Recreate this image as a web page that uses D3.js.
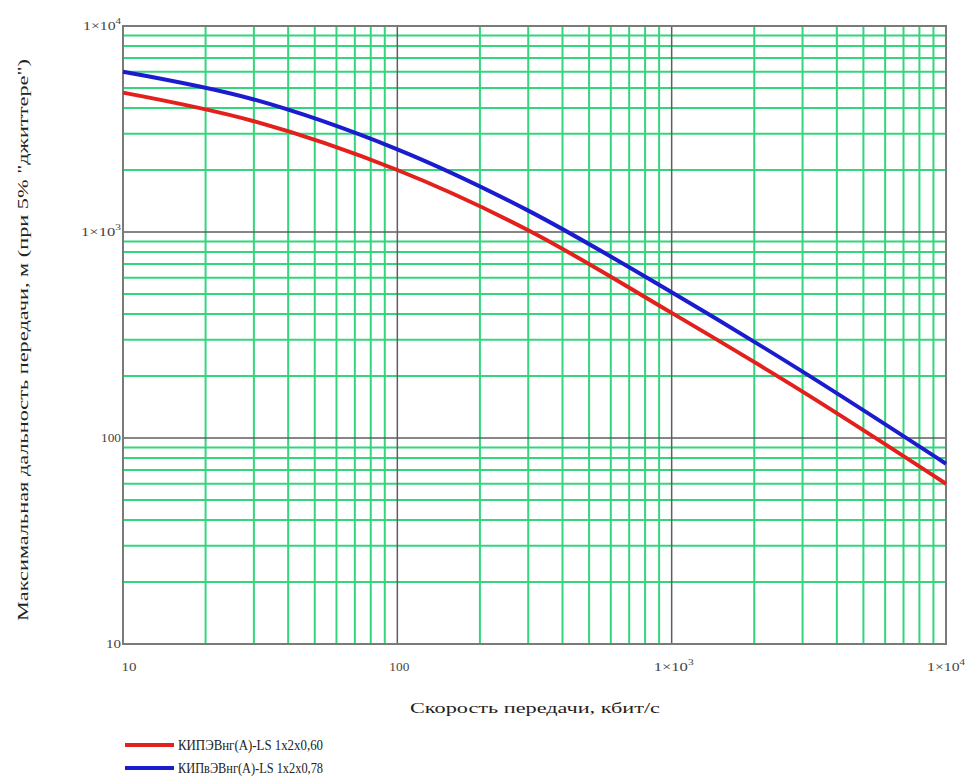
<!DOCTYPE html>
<html>
<head>
  <meta charset='utf-8'>
  <title>Дальность передачи</title>
  <style>
    body { margin: 0; background: #fff; }
  </style>
</head>
<body>
<div id="chart"></div>
<script src="https://cdnjs.cloudflare.com/ajax/libs/d3/7.8.5/d3.min.js"></script>
<script>

// values
var speeds = [10, 30, 100, 300, 1000, 3000, 10000];
var range060 = [4750, 3450, 2000, 1020, 405, 168, 60];
var range078 = [6000, 4400, 2520, 1270, 510, 210, 75];
var seriesNames = ['КИПЭВнг(А)-LS 1x2x0,60', 'КИПвЭВнг(А)-LS 1x2x0,78'];
var seriesColors = ['#e3201b', '#1c1ccf'];
var decades = [10, 100, 1000, 10000];
var decadeLabels = ['10', '100', '1\u00d710|3', '1\u00d710|4'];

var width = 968, height = 779;
// note: "top" is taken by window.top, so plot edges get their own names
var plotL = 123, plotR = 946, plotT = 26, plotB = 644;
var serif = "'Liberation Serif', 'Times New Roman', 'DejaVu Serif', serif";

var svg = d3.select('#chart').append('svg')
  .attr('width', width)
  .attr('height', height)
  .attr('font-family', serif);

var x = d3.scaleLog().domain([10, 10000]).range([plotL, plotR]);
var y = d3.scaleLog().domain([10, 10000]).range([plotB, plotT]);

// minor values 20..90, 200..900 etc
var minors = [];
decades.slice(0, 3).forEach(function(d) {
  for (var k = 2; k <= 9; k++) minors.push(d * k);
});

var grid = svg.append('g');
grid.selectAll('line.vmin').data(minors).enter().append('line')
  .attr('x1', function(d) { return x(d); })
  .attr('x2', function(d) { return x(d); })
  .attr('y1', plotT).attr('y2', plotB)
  .attr('stroke', '#33d67c').attr('stroke-width', 2);
grid.selectAll('line.hmin').data(minors).enter().append('line')
  .attr('y1', function(d) { return y(d); })
  .attr('y2', function(d) { return y(d); })
  .attr('x1', plotL).attr('x2', plotR)
  .attr('stroke', '#33d67c').attr('stroke-width', 2);
grid.selectAll('line.vmaj').data(decades.slice(1, 3)).enter().append('line')
  .attr('x1', function(d) { return x(d); })
  .attr('x2', function(d) { return x(d); })
  .attr('y1', plotT).attr('y2', plotB)
  .attr('stroke', '#5e5e5e').attr('stroke-width', 1.5);
grid.selectAll('line.hmaj').data(decades.slice(1, 3)).enter().append('line')
  .attr('y1', function(d) { return y(d); })
  .attr('y2', function(d) { return y(d); })
  .attr('x1', plotL).attr('x2', plotR)
  .attr('stroke', '#5e5e5e').attr('stroke-width', 1.5);

svg.append('rect')
  .attr('x', plotL).attr('y', plotT)
  .attr('width', plotR - plotL).attr('height', plotB - plotT)
  .attr('fill', 'none').attr('stroke', '#7a7a7a').attr('stroke-width', 2);

// tick labels, "a|b" means a with superscript b
function label(sel, s) {
  var parts = s.split('|');
  sel.text(parts[0]);
  if (parts[1]) {
    sel.append('tspan').attr('dy', -6).attr('font-size', 9).text(parts[1]);
  }
}

// the source picture is stretched sideways, so text is stretched to match
function stretch(sel, len) {
  sel.attr('textLength', len).attr('lengthAdjust', 'spacingAndGlyphs');
}
var tickLen = [15, 20, 40, 38];

decades.forEach(function(d, i) {
  var t = svg.append('text')
    .attr('x', plotL - 2).attr('y', y(d) + 4)
    .attr('text-anchor', 'end')
    .attr('font-size', 13).attr('fill', '#444');
  label(t, decadeLabels[i]);
  stretch(t, tickLen[i]);
  // last label is kept inside the page edge
  var tx = svg.append('text')
    .attr('x', i === 3 ? width - 3 : x(d) + (i === 0 ? 6 : 2))
    .attr('y', plotB + 27)
    .attr('text-anchor', i === 3 ? 'end' : 'middle')
    .attr('font-size', 13).attr('fill', '#444');
  label(tx, decadeLabels[i]);
  stretch(tx, tickLen[i]);
});

svg.append('text')
  .attr('x', 535).attr('y', 713)
  .attr('text-anchor', 'middle')
  .attr('font-size', 15).attr('fill', '#222')
  .text('Скорость передачи, кбит/с')
  .call(stretch, 250);

svg.append('text')
  .attr('transform', 'translate(28,' + 340 + ') rotate(-90)')
  .attr('text-anchor', 'middle')
  .attr('font-size', 15).attr('fill', '#222')
  .text('Максимальная дальность передачи, м (при 5% "джиттере")')
  .call(stretch, 562);

// curves
var line = d3.line()
  .x(function(d) { return x(d[0]); })
  .y(function(d) { return y(d[1]); })
  .curve(d3.curveCatmullRom.alpha(0.5));

[range060, range078].forEach(function(vals, i) {
  svg.append('path')
    .datum(speeds.map(function(s, j) { return [s, vals[j]]; }))
    .attr('d', line)
    .attr('fill', 'none')
    .attr('stroke', seriesColors[i])
    .attr('stroke-width', 4);
});

// legend
seriesNames.forEach(function(name, i) {
  var ly = 745 + i * 23;
  svg.append('line')
    .attr('x1', 125).attr('x2', 174)
    .attr('y1', ly).attr('y2', ly)
    .attr('stroke', seriesColors[i]).attr('stroke-width', 4);
  svg.append('text')
    .attr('x', 178).attr('y', ly + 5)
    .attr('font-size', 14).attr('fill', '#222')
    .text(name)
    .call(stretch, 145);
});

</script>
</body>
</html>
